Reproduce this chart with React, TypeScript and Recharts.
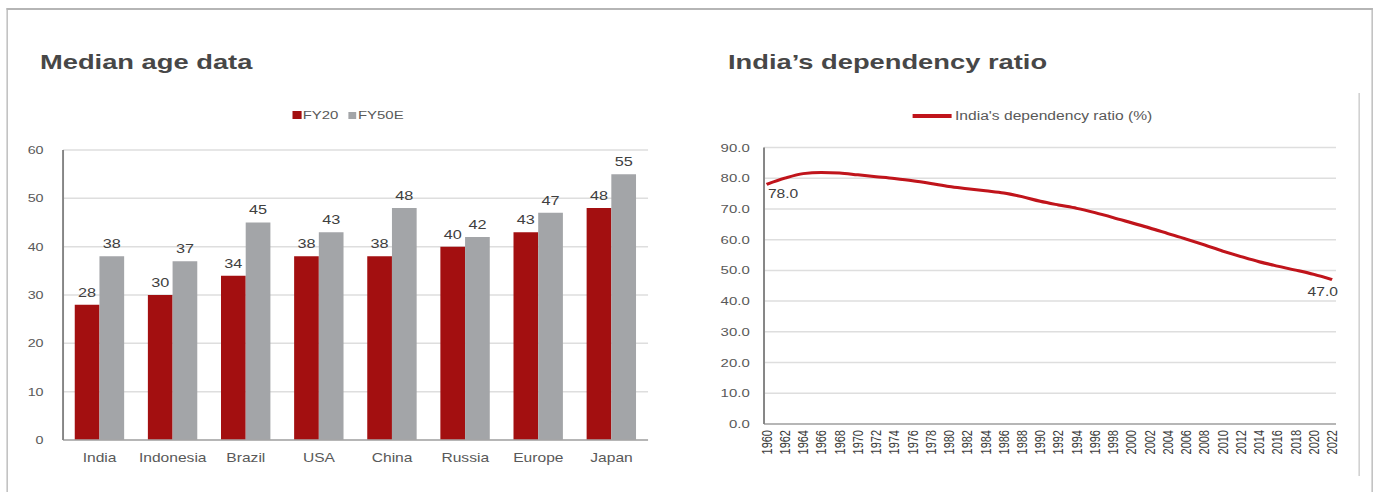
import React from 'react';
import {
  BarChart,
  Bar,
  XAxis,
  YAxis,
  CartesianGrid,
  LabelList,
  Legend,
  LineChart,
  Line,
} from 'recharts';

// ---------- data ----------
const countries = ['India', 'Indonesia', 'Brazil', 'USA', 'China', 'Russia', 'Europe', 'Japan'];
const fy20 = [28, 30, 34, 38, 38, 40, 43, 48];
const fy50e = [38, 37, 45, 43, 48, 42, 47, 55];
const ageTicks = [0, 10, 20, 30, 40, 50, 60];

const years = [
  1960, 1962, 1964, 1966, 1968, 1970, 1972, 1974, 1976, 1978, 1980, 1982, 1984, 1986, 1988, 1990,
  1992, 1994, 1996, 1998, 2000, 2002, 2004, 2006, 2008, 2010, 2012, 2014, 2016, 2018, 2020, 2022,
];
const dependency = [
  78.0, 80.0, 81.5, 81.9, 81.7, 81.1, 80.5, 79.9, 79.2, 78.3, 77.3, 76.6, 75.9, 75.2, 74.0, 72.5,
  71.3, 70.2, 68.8, 67.2, 65.5, 63.8, 62.0, 60.2, 58.3, 56.3, 54.5, 52.8, 51.4, 50.1, 48.7, 47.0,
];
const ratioTicks = [0, 10, 20, 30, 40, 50, 60, 70, 80, 90];

const barData = countries.map((c, i) => ({ country: c, FY20: fy20[i], FY50E: fy50e[i] }));
const lineData = years.map((y, i) => ({ year: String(y), ratio: dependency[i] }));

// ---------- styling ----------
const S = 1.3; // horizontal stretch of the reference picture
const FONT = '"Liberation Sans", Arial, sans-serif';
const RED_BAR = '#a30f10';
const GREY_BAR = '#a3a5a8';
const RED_LINE = '#c0141b';
const GRID = '#dedede';

const BarLegend = () => (
  <div
    style={{
      display: 'flex',
      justifyContent: 'center',
      alignItems: 'center',
      fontSize: 11.5,
      color: '#595959',
      fontFamily: FONT,
    }}
  >
    <span style={{ display: 'inline-block', width: 7, height: 8, background: RED_BAR, marginRight: 1 }} />
    <span style={{ marginRight: 8 }}>FY20</span>
    <span style={{ display: 'inline-block', width: 6, height: 7, background: GREY_BAR, marginRight: 1 }} />
    <span>FY50E</span>
  </div>
);

const LineLegend = () => (
  <div
    style={{
      display: 'flex',
      justifyContent: 'center',
      alignItems: 'center',
      fontSize: 12,
      color: '#595959',
      fontFamily: FONT,
    }}
  >
    <span style={{ display: 'inline-block', width: 30, height: 4, background: RED_LINE, marginRight: 3 }} />
    <span>India's dependency ratio (%)</span>
  </div>
);

const YearTick = (props: any) => {
  const { x, y, payload } = props;
  return (
    <text
      x={x}
      y={y}
      transform={`rotate(-90 ${x} ${y})`}
      textAnchor="end"
      dy="0.35em"
      fontSize={11}
      fill="#3a3a3a"
      fontFamily={FONT}
    >
      {payload.value}
    </text>
  );
};

const EndLabel = (props: any) => {
  const { index, value } = props;
  const x = props.x ?? (props.viewBox ? props.viewBox.x : 0);
  const y = props.y ?? (props.viewBox ? props.viewBox.y : 0);
  const last = dependency.length - 1;
  if (index === 0) {
    return (
      <text x={x + 1} y={y + 14} textAnchor="start" fontSize={12} fill="#404040" fontFamily={FONT}>
        {Number(value).toFixed(1)}
      </text>
    );
  }
  if (index === last) {
    return (
      <text x={x + 4.5} y={y + 16} textAnchor="end" fontSize={12} fill="#404040" fontFamily={FONT}>
        {Number(value).toFixed(1)}
      </text>
    );
  }
  return null;
};

export default function App() {
  const innerW = 1379 / S;
  return (
    <div
      style={{
        position: 'absolute',
        left: 0,
        top: 0,
        width: 1379,
        height: 492,
        overflow: 'hidden',
        background: '#ffffff',
        fontFamily: FONT,
      }}
    >
      <div
        style={{
          position: 'absolute',
          left: 0,
          top: 0,
          width: innerW,
          height: 492,
          transform: `scaleX(${S})`,
          transformOrigin: '0 0',
        }}
      >
        {/* outer frame */}
        <div
          style={{
            position: 'absolute',
            left: 6 / S,
            top: 8,
            width: 1367 / S,
            height: 560,
            boxSizing: 'border-box',
            borderTop: '2px solid #b5b5b5',
            borderLeft: '1.5px solid #b5b5b5',
            borderRight: '1.5px solid #b5b5b5',
          }}
        />
        {/* inner divider at right */}
        <div
          style={{
            position: 'absolute',
            left: 1359 / S,
            top: 93,
            width: 1,
            height: 383,
            background: '#c8c8c8',
          }}
        />

        {/* titles */}
        <div
          style={{
            position: 'absolute',
            left: 40 / S,
            top: 51,
            fontSize: 21,
            lineHeight: '21px',
            fontWeight: 700,
            color: '#474747',
            whiteSpace: 'nowrap',
          }}
        >
          Median age data
        </div>
        <div
          style={{
            position: 'absolute',
            left: 728 / S,
            top: 51,
            fontSize: 21,
            lineHeight: '21px',
            fontWeight: 700,
            color: '#474747',
            whiteSpace: 'nowrap',
          }}
        >
          India’s dependency ratio
        </div>

        {/* left chart */}
        <div style={{ position: 'absolute', left: 0, top: 0 }}>
          <BarChart
            width={520}
            height={492}
            data={barData}
            margin={{ top: 150, right: 21.5, bottom: 22, left: 8.5 }}
            barCategoryGap="16%"
            barGap={0}
          >
            <CartesianGrid vertical={false} stroke={GRID} strokeWidth={1.5} />
            <XAxis
              dataKey="country"
              height={30}
              tickLine={false}
              tickSize={6}
              tickMargin={7}
              axisLine={{ stroke: '#a6a6a6', strokeWidth: 1.5 }}
              tick={{ fill: '#595959', fontSize: 12 }}
              interval={0}
            />
            <YAxis
              width={40}
              domain={[0, 60]}
              ticks={ageTicks}
              tickLine={false}
              tickSize={6}
              tickMargin={9}
              axisLine={{ stroke: '#858585', strokeWidth: 1.5 }}
              tick={{ fill: '#595959', fontSize: 11 }}
            />
            <Legend
              verticalAlign="middle"
              layout="horizontal"
              align="center"
              content={BarLegend}
              wrapperStyle={{ top: 109, left: 7.7, width: 520 }}
            />
            <Bar dataKey="FY20" fill={RED_BAR} isAnimationActive={false}>
              <LabelList dataKey="FY20" position="top" offset={8} fill="#404040" fontSize={12.5} />
            </Bar>
            <Bar dataKey="FY50E" fill={GREY_BAR} isAnimationActive={false}>
              <LabelList dataKey="FY50E" position="top" offset={8} fill="#404040" fontSize={12.5} />
            </Bar>
          </BarChart>
        </div>

        {/* right chart */}
        <div style={{ position: 'absolute', left: 540, top: 0 }}>
          <LineChart
            width={500}
            height={492}
            data={lineData}
            margin={{ top: 147.5, right: 12.3, bottom: 28, left: 7.7 }}
          >
            <CartesianGrid vertical={false} stroke={GRID} strokeWidth={1.5} />
            <XAxis
              dataKey="year"
              height={40}
              interval={0}
              tickLine={false}
              tickSize={6}
              tickMargin={0}
              padding={{ left: 2, right: 3 }}
              axisLine={{ stroke: '#a6a6a6', strokeWidth: 1.5 }}
              tick={<YearTick />}
            />
            <YAxis
              width={40}
              domain={[0, 90]}
              ticks={ratioTicks}
              tickLine={false}
              tickSize={6}
              tickMargin={5}
              tickFormatter={(v: number) => v.toFixed(1)}
              axisLine={{ stroke: '#858585', strokeWidth: 1.5 }}
              tick={{ fill: '#595959', fontSize: 11.5 }}
            />
            <Legend
              verticalAlign="middle"
              layout="horizontal"
              align="center"
              content={LineLegend}
              wrapperStyle={{ top: 109, left: 0, width: 508 }}
            />
            <Line
              type="monotone"
              dataKey="ratio"
              stroke={RED_LINE}
              strokeWidth={3}
              dot={false}
              isAnimationActive={false}
            >
              <LabelList dataKey="ratio" content={EndLabel} />
            </Line>
          </LineChart>
        </div>
      </div>
    </div>
  );
}
